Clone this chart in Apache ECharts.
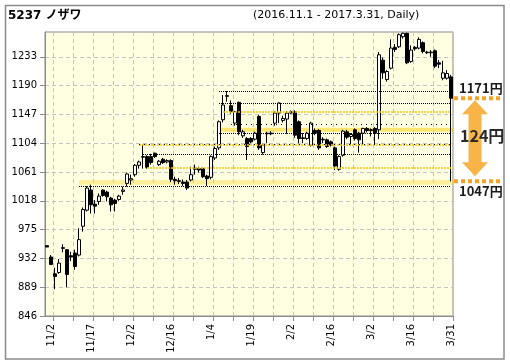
<!DOCTYPE html>
<html><head><meta charset="utf-8">
<script src="https://cdn.jsdelivr.net/npm/echarts@6/dist/echarts.min.js"></script>
<style>html,body{margin:0;padding:0;background:#fff}#c{width:510px;height:364px}</style>
</head><body><div id="c"></div>
<script>
const dates = ['11/1','11/2','11/4','11/7','11/8','11/9','11/10','11/11','11/14','11/15','11/16','11/17','11/18','11/21','11/22','11/24','11/25','11/28','11/29','11/30',
'12/1','12/2','12/5','12/6','12/7','12/8','12/9','12/12','12/13','12/14','12/15','12/16','12/19','12/20','12/21','12/22','12/26','12/27','12/28','12/29','12/30',
'1/4','1/5','1/6','1/10','1/11','1/12','1/13','1/16','1/17','1/18','1/19','1/20','1/23','1/24','1/25','1/26','1/27','1/30','1/31',
'2/1','2/2','2/3','2/6','2/7','2/8','2/9','2/10','2/13','2/14','2/15','2/16','2/17','2/20','2/21','2/22','2/23','2/24','2/27','2/28',
'3/1','3/2','3/3','3/6','3/7','3/8','3/9','3/10','3/13','3/14','3/15','3/16','3/17','3/21','3/22','3/23','3/24','3/27','3/28','3/29','3/30','3/31'];
const openP  = [951,934,909,911,948,945,936,940,937,980,1004,1034,1013,1017,1034,1031,1022,1019,1020,1032,1044,1049,1057,1071,1083,1084,1084,1089,1072,1080,1076,1078,1050,1048,1046,1046,1049,1065,1066,1066,1055,1053,1082,1097,1139,1175,1160,1134,1165,1115,1111,1111,1110,1144,1090,1118,1119,1134,1149,1138,1140,1151,1151,1136,1112,1111,1101,1123,1123,1110,1109,1106,1097,1065,1086,1121,1114,1124,1119,1119,1126,1124,1126,1124,1228,1199,1216,1247,1248,1263,1268,1226,1247,1246,1254,1240,1239,1242,1224,1201,1201,1203];
const highP  = [951,937,918,931,953,946,942,945,977,1008,1040,1042,1019,1029,1035,1033,1024,1021,1027,1039,1060,1057,1073,1078,1102,1086,1088,1090,1079,1082,1080,1080,1054,1052,1050,1049,1069,1072,1069,1068,1057,1086,1099,1138,1176,1182,1168,1152,1166,1124,1113,1113,1121,1146,1103,1121,1122,1152,1165,1145,1152,1153,1153,1138,1119,1121,1136,1126,1125,1113,1111,1108,1099,1086,1124,1124,1119,1126,1121,1127,1128,1126,1128,1240,1232,1213,1259,1252,1268,1269,1269,1250,1249,1262,1256,1242,1243,1244,1228,1227,1213,1206];
const lowP   = [949,922,886,909,941,889,928,915,935,972,1002,999,999,1012,1024,1017,1002,1002,1018,1027,1039,1042,1054,1066,1066,1066,1072,1082,1070,1073,1074,1046,1042,1043,1040,1034,1047,1057,1060,1052,1040,1050,1079,1094,1135,1166,1148,1130,1116,1112,1079,1104,1108,1094,1087,1104,1116,1130,1134,1135,1118,1148,1112,1104,1104,1109,1099,1116,1094,1104,1097,1099,1064,1063,1084,1110,1101,1108,1090,1101,1120,1114,1101,1110,1200,1196,1214,1240,1246,1260,1222,1224,1242,1244,1238,1237,1233,1216,1216,1198,1199,1047];
const closeP = [949,923,905,925,947,908,934,920,960,1005,1037,1012,1010,1025,1026,1024,1012,1014,1025,1034,1058,1051,1071,1076,1084,1068,1075,1084,1077,1075,1078,1050,1048,1047,1044,1037,1057,1067,1064,1054,1051,1084,1096,1136,1161,1174,1151,1151,1121,1121,1099,1106,1119,1097,1101,1119,1118,1149,1164,1141,1149,1149,1116,1111,1111,1119,1134,1119,1097,1109,1099,1101,1070,1084,1122,1113,1117,1111,1109,1126,1123,1123,1119,1236,1209,1211,1246,1244,1266,1268,1224,1243,1245,1259,1241,1239,1240,1219,1222,1209,1208,1171];
const xTickLabels = ['11/2','11/17','12/2','12/16','1/4','1/19','2/2','2/16','3/2','3/16','3/31'];
const yTickLabels = [846,889,932,975,1018,1061,1104,1147,1190,1233];
const yMin = 846, yMax = 1270, yStep = 43;
// horizontal price lines: [price, start date]
const blackDotLines = [[1182,'1/6'],[1164,'1/6'],[1119,'1/6'],[1088,'12/7'],[1039,'11/14']];
const blackSparseLines = [[1133,'1/12'],[1102,'12/6']];
const yellowLines = [[1151,'1/10'],[1102,'12/6'],[1067,'12/8']];
const yellowBands = [[1121,1127,'1/6'],[1042,1049,'11/14']];
const lastPrice = 1171, supportPrice = 1047;

(function(){
const G = {left:45, right:57, top:32, bottom:48};
const W = 510, H = 364;
const chart = echarts.init(document.getElementById('c'), null, {renderer:'canvas'});
const lastDate = dates[dates.length-1];
const mlData = [];
yellowLines.forEach(([p,d]) => mlData.push([{coord:[d,p], lineStyle:{color:'#f6c616', width:1.5, type:[2,1]}},{coord:[lastDate,p]}]));
blackDotLines.forEach(([p,d]) => mlData.push([{coord:[d,p], lineStyle:{color:'#000', width:1, type:[1,1]}},{coord:[lastDate,p]}]));
blackSparseLines.forEach(([p,d]) => mlData.push([{coord:[d,p], lineStyle:{color:'#000', width:1, type:[1,4]}},{coord:[lastDate,p]}]));
const bandColors = ['rgba(255,205,0,0.5)','rgba(255,210,40,0.38)'];
const maData = yellowBands.map(([lo,hi,d],k) => [{xAxis:d, yAxis:lo, itemStyle:{color:bandColors[k]}},{yAxis:hi}]);
const font = '"DejaVu Sans","Noto Sans CJK JP",sans-serif';
const gridStyle = {color:'#c4c4c4', type:[4,3], width:1};

const option = {
  animation:false,
  grid:{left:G.left,right:G.right,top:G.top,bottom:G.bottom,show:true,backgroundColor:'#ffffe2',borderColor:'#8a8a8a',borderWidth:1},
  xAxis:{type:'category', data:dates, boundaryGap:true,
    axisLine:{lineStyle:{color:'#8a8a8a'}},
    axisTick:{show:true, length:5, interval:(i)=>i%5===2, lineStyle:{color:'#8a8a8a'}},
    splitLine:{show:true, interval:(i)=>i%5===2, lineStyle:gridStyle},
    axisLabel:{rotate:90, interval:(i,v)=>xTickLabels.includes(v), color:'#000', fontSize:10, fontFamily:font, margin:8}
  },
  yAxis:[
    {type:'value', min:0, max:yMax-yMin, interval:yStep,
      axisLine:{show:true, lineStyle:{color:'#8a8a8a'}},
      axisTick:{show:true, length:5, lineStyle:{color:'#8a8a8a'}},
      splitLine:{show:true, lineStyle:gridStyle},
      axisLabel:{color:'#000', fontSize:10, fontFamily:font, margin:8, showMaxLabel:false,
        formatter:(v)=> yTickLabels.includes(Math.round(v+yMin)) ? String(Math.round(v+yMin)) : ''}
    },
    {type:'value', min:yMin, max:yMax, show:false}
  ],
  series:[{
    type:'candlestick', yAxisIndex:1,
    data: dates.map((d,i)=>[openP[i], closeP[i], lowP[i], highP[i]]),
    barWidth:3,
    itemStyle:{color:'#fff', color0:'#000', borderColor:'#000', borderColor0:'#000', borderWidth:1},
    markArea:{silent:true, label:{show:false}, data:maData},
    markLine:{silent:true, symbol:['none','none'], label:{show:false}, emphasis:{disabled:true}, data:mlData}
  }],
  graphic:[]
};
chart.setOption(option);

const py = v => chart.convertToPixel({yAxisIndex:1}, v);
const y1 = py(lastPrice), y2 = py(supportPrice);
const xR = W - G.right;
const orange = '#f7a125';
const cx = 475, aTop = y1 + 2, aBot = y2 - 5, hh = 14, hw = 13, sw = 6.5;
chart.setOption({graphic:[
  {type:'rect', shape:{x:5.5, y:5.5, width:498.5, height:353.5}, style:{fill:'none', stroke:'#8a8a8a', lineWidth:1.5}, silent:true},
  {type:'text', left:8, top:10, style:{text:'5237 ノザワ', font:'bold 12px '+font, fill:'#000'}},
  {type:'text', left:253, top:10, style:{text:'(2016.11.1 - 2017.3.31, Daily)', font:'11px '+font, fill:'#000'}},
  {type:'polygon', shape:{points:[[cx,aTop],[cx+hw,aTop+hh],[cx+sw,aTop+hh],[cx+sw,aBot-hh],[cx+hw,aBot-hh],[cx,aBot],[cx-hw,aBot-hh],[cx-sw,aBot-hh],[cx-sw,aTop+hh],[cx-hw,aTop+hh]]}, style:{fill:'#f9b447'}, silent:true},
  {type:'line', shape:{x1:xR+1, y1:y1, x2:502, y2:y1}, style:{stroke:orange, lineWidth:4, lineDash:[4,3]}, silent:true},
  {type:'line', shape:{x1:xR+1, y1:y2, x2:502, y2:y2}, style:{stroke:orange, lineWidth:4, lineDash:[4,3]}, silent:true},
  {type:'text', x:459, y:y1-10, style:{text:lastPrice+'円', font:'bold 13px "Noto Sans CJK JP",sans-serif', fill:'#1a1a1a', textVerticalAlign:'middle'}},
  {type:'text', x:459, y:y2+10, style:{text:supportPrice+'円', font:'bold 13px "Noto Sans CJK JP",sans-serif', fill:'#1a1a1a', textVerticalAlign:'middle'}},
  {type:'text', x:460, y:(y1+y2)/2-4, style:{text:(lastPrice-supportPrice)+'円', font:'bold 16px "Noto Sans CJK JP",sans-serif', fill:'#2a2a2a', textVerticalAlign:'middle'}}
]});
})();
</script></body></html>
